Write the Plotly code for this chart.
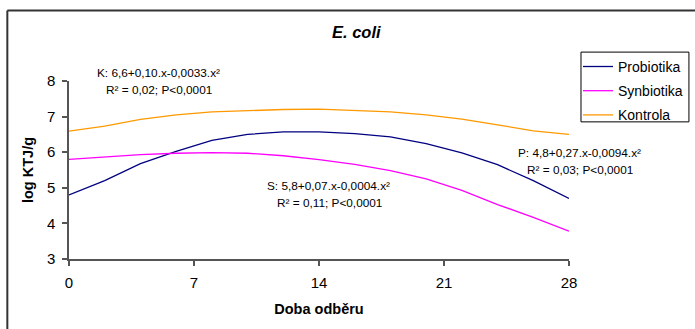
import plotly.graph_objects as go

days = [0, 2, 4, 6, 8, 10, 12, 14, 16, 18, 20, 22, 24, 26, 28]
probiotika = [4.80, 5.20, 5.68, 6.02, 6.33, 6.50, 6.57, 6.57, 6.52, 6.43, 6.24, 5.98, 5.65, 5.20, 4.70]
synbiotika = [5.80, 5.87, 5.93, 5.97, 5.99, 5.97, 5.90, 5.79, 5.66, 5.48, 5.25, 4.93, 4.53, 4.17, 3.78]
kontrola = [6.59, 6.73, 6.92, 7.05, 7.13, 7.17, 7.20, 7.21, 7.18, 7.13, 7.05, 6.93, 6.77, 6.60, 6.50]
x_ticks = [0, 7, 14, 21, 28]
y_ticks = [3, 4, 5, 6, 7, 8]

W, H = 695, 329
L, R, T, B = 68.7, 569.0, 80.7, 259.3

FONT = "Liberation Sans, Arial, sans-serif"

fig = go.Figure()
fig.add_trace(go.Scatter(x=days, y=probiotika, mode="lines", name="Probiotika", legendgroup="p",
                         line=dict(color="#000080", width=1.3)))
fig.add_trace(go.Scatter(x=days, y=synbiotika, mode="lines", name="Synbiotika", legendgroup="s",
                         line=dict(color="#FF00FF", width=1.3)))
fig.add_trace(go.Scatter(x=days, y=kontrola, mode="lines", name="Kontrola", legendgroup="k",
                         line=dict(color="#FF9900", width=1.3)))

def px(x):
    return (x - L) / (R - L)

def py(y):
    return (B - y) / (B - T)

annots = [
    ("K: 6,6+0,10.x-0,0033.x²", 158, 72.7),
    ("R² = 0,02; P<0,0001", 159, 89.3),
    ("S: 5,8+0,07.x-0,0004.x²", 328, 186),
    ("R² = 0,11; P<0,0001", 329, 202.7),
    ("P: 4,8+0,27.x-0,0094.x²", 580, 153.3),
    ("R² = 0,03; P<0,0001", 580, 170),
]
annotations = []
for text, ax, ay in annots:
    annotations.append(dict(text=text, x=px(ax), y=py(ay), xref="paper", yref="paper",
                            xanchor="center", yanchor="middle", showarrow=False,
                            font=dict(family=FONT, size=11.8, color="#000000")))
annotations.append(dict(text="<b><i>E. coli</i></b>", x=px(356), y=py(32), xref="paper", yref="paper",
                        xanchor="center", yanchor="middle", showarrow=False,
                        font=dict(family=FONT, size=16.5, color="#000000")))

shapes = [
    dict(type="line", xref="paper", yref="paper", x0=px(7), x1=px(700), y0=py(10), y1=py(10),
         line=dict(color="#333333", width=2)),
    dict(type="line", xref="paper", yref="paper", x0=px(7), x1=px(7), y0=py(10), y1=py(340),
         line=dict(color="#333333", width=2)),
    # legend frame
    dict(type="rect", xref="paper", yref="paper", x0=px(581), x1=px(689), y0=py(51.7), y1=py(121.7),
         line=dict(color="#000000", width=1), fillcolor="rgba(0,0,0,0)", layer="above"),
]

fig.update_layout(
    width=W, height=H,
    margin=dict(l=L, r=W - R, t=T, b=H - B, pad=0, autoexpand=False),
    paper_bgcolor="white", plot_bgcolor="white",
    font=dict(family=FONT, size=13, color="#000000"),
    showlegend=True,
    legend=dict(x=px(578), y=py(50.5), xref="paper", yref="paper", xanchor="left", yanchor="top",
                bgcolor="rgba(0,0,0,0)", borderwidth=0,
                font=dict(family=FONT, size=14), tracegroupgap=3, itemwidth=30),
    annotations=annotations,
    shapes=shapes,
    xaxis=dict(range=[0, 28], tickvals=x_ticks, ticktext=[str(v) for v in x_ticks],
               showgrid=False, zeroline=False, showline=True, linecolor="#555555", linewidth=1.5,
               ticks="outside", ticklen=5, tickcolor="#555555", tickwidth=1.5,
               tickfont=dict(size=15, family=FONT), ticklabelstandoff=4,
               title=dict(text="<b>Doba odběru</b>", font=dict(size=14.5, family=FONT), standoff=14)),
    yaxis=dict(range=[3, 8], tickvals=y_ticks, ticktext=[str(v) for v in y_ticks],
               showgrid=False, zeroline=False, showline=True, linecolor="#555555", linewidth=1.5,
               ticks="outside", ticklen=5, tickcolor="#555555", tickwidth=1.5,
               tickfont=dict(size=15, family=FONT), ticklabelstandoff=4,
               title=dict(text="<b>log KTJ/g</b>", font=dict(size=14.5, family=FONT), standoff=10)),
)

fig.write_html("out.html")
